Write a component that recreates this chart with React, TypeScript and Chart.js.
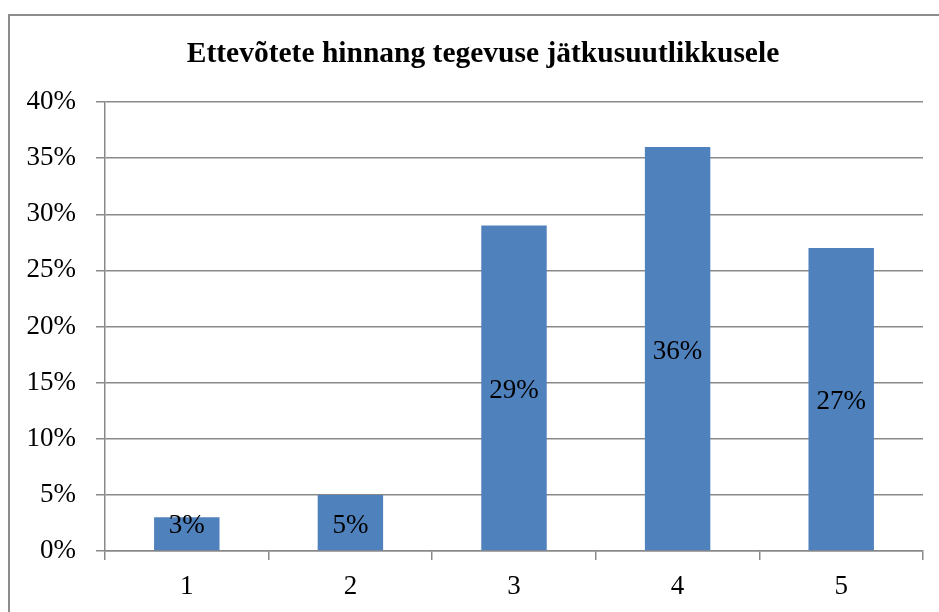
import React, { useEffect, useRef } from "react";
import { Chart, registerables } from "chart.js";

Chart.register(...registerables);

const chartTitle = "Ettevõtete hinnang tegevuse jätkusuutlikkusele";
const categories = ["1", "2", "3", "4", "5"];
const values = [3, 5, 29, 36, 27];
const yMax = 40;
const yStep = 5;

const FONT = '"Liberation Serif", "Times New Roman", serif';
const GRID = "#898989";
const FS = 27;

const framePlugin = {
  id: "frame",
  beforeDraw(chart: any) {
    const ctx = chart.ctx;
    ctx.save();
    ctx.fillStyle = "#ffffff";
    ctx.fillRect(0, 0, chart.width, chart.height);
    ctx.strokeStyle = "#8c8c8c";
    ctx.lineWidth = 2;
    ctx.strokeRect(9, 15, chart.width + 20, chart.height + 20);
    ctx.restore();
  },
  afterDraw(chart: any) {
    const ctx = chart.ctx;
    ctx.save();
    ctx.fillStyle = "#000";
    ctx.font = `bold 29.5px ${FONT}`;
    ctx.textAlign = "center";
    ctx.textBaseline = "alphabetic";
    ctx.fillText(chartTitle, 483, 62);
    // data labels
    const meta = chart.getDatasetMeta(0);
    ctx.font = `${FS}px ${FONT}`;
    ctx.textBaseline = "middle";
    meta.data.forEach((bar: any, i: number) => {
      const center = (bar.y + bar.base) / 2 + 3;
      const y = Math.min(center, bar.base - 24);
      ctx.fillText(values[i] + "%", bar.x, y);
    });
    ctx.restore();
  },
};

export default function App() {
  const ref = useRef<HTMLCanvasElement>(null);
  useEffect(() => {
    if (!ref.current) return;
    const chart = new Chart(ref.current, {
      type: "bar",
      data: {
        labels: categories,
        datasets: [
          {
            data: values,
            backgroundColor: "#4F81BD",
            borderWidth: 0,
            categoryPercentage: 1,
            barPercentage: 0.4,
          },
        ],
      },
      options: {
        responsive: false,
        animation: false,
        layout: { padding: { left: 0, right: 16, top: 102, bottom: 0 } },
        plugins: {
          legend: { display: false },
          title: { display: false },
          tooltip: { enabled: false },
        },
        scales: {
          x: {
            afterFit(scale: any) {
              scale.height = 61;
            },
            grid: {
              offset: true,
              drawOnChartArea: false,
              drawTicks: true,
              tickLength: 9,
              color: GRID,
              lineWidth: 1.5,
            },
            border: { display: true, color: GRID, width: 1.5 },
            ticks: {
              color: "#000",
              font: { family: FONT, size: FS },
              padding: 11,
            },
          },
          y: {
            min: 0,
            max: yMax,
            afterFit(scale: any) {
              scale.width = 105;
            },
            grid: {
              color: GRID,
              lineWidth: 1.5,
              tickLength: 9,
              drawTicks: true,
            },
            border: { display: true, color: GRID, width: 1.5 },
            ticks: {
              stepSize: yStep,
              color: "#000",
              font: { family: FONT, size: FS },
              padding: 20,
              callback: (v: any) => v + "%",
            },
          },
        },
      },
      plugins: [framePlugin],
    });
    return () => chart.destroy();
  }, []);
  return (
    <div style={{ position: "fixed", left: 0, top: 0, width: 939, height: 612 }}>
      <canvas ref={ref} width={939} height={612} style={{ width: 939, height: 612 }} />
    </div>
  );
}
